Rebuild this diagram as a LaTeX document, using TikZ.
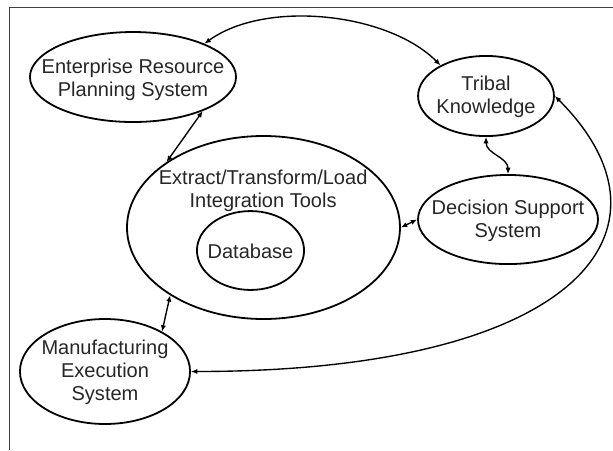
\documentclass[tikz,border=0pt]{standalone}
\usepackage{fontspec}
\setmainfont{Liberation Sans}
\usetikzlibrary{shapes.geometric,arrows.meta}

\begin{document}
\begin{tikzpicture}[
    bubble/.style={draw, ellipse, line width=1.7pt, inner sep=0pt},
    caption/.style={align=center, text=black!85, font=\fontsize{19}{21.7}\selectfont},
    link/.style={line width=1.3pt, {Latex[length=6pt,width=5pt]}-{Latex[length=6pt,width=5pt]}}
]

    % Page edges
    \useasboundingbox (0,0) rectangle (20.433,-15);
    \draw[black!75, line width=0.9pt] (0.3,-15) -- (0.3,-0.233) -- (20.433,-0.233);

    % ERP
    \node[bubble, minimum width=6.87cm, minimum height=3cm] (erp) at (4.433,-2.567) {};
    \node[caption] (erptext) at (4.433,-2.65) {Enterprise Resource\\Planning System};

    % Tribal knowledge
    \node[bubble, minimum width=4.53cm, minimum height=2.67cm] (tribal) at (16.2,-3.2) {};
    \node[caption] (tribaltext) at (16.2,-3.23) {Tribal\\Knowledge};

    % ETL with the database inside
    \node[bubble, minimum width=9.1cm, minimum height=6.1cm] (etl) at (8.783,-7.583) {};
    \node[caption] (etltext) at (8.77,-6.35) {Extract/Transform/Load\\Integration Tools};
    \node[bubble, minimum width=3.57cm, minimum height=2.63cm] (db) at (8.35,-8.35) {};
    \node[caption] (dbtext) at (8.35,-8.37) {Database};

    % Decision support
    \node[bubble, minimum width=6cm, minimum height=2.97cm] (dss) at (16.933,-7.317) {};
    \node[caption] (dsstext) at (16.933,-7.37) {Decision Support\\System};

    % MES
    \node[bubble, minimum width=5.67cm, minimum height=3.5cm] (mes) at (3.5,-12.383) {};
    \node[caption] (mestext) at (3.5,-12.4) {Manufacturing\\Execution\\System};

    % Links
    \draw[link] (erp.25) to[out=36, in=135, distance=2.5cm] (tribal.146);
    \draw[link] (erp.-26) -- (etl.146);
    \draw[link] (tribal.south) to[out=-90, in=90] (dss.north);
    \draw[link] (etl.east) -- (dss.west);
    \draw[link] (etl.216) -- (mes.35);
    \draw[link] (tribal.east) to[out=-45, in=0, out distance=6.3cm, in distance=12.9cm] (mes.east);

\end{tikzpicture}
\end{document}
